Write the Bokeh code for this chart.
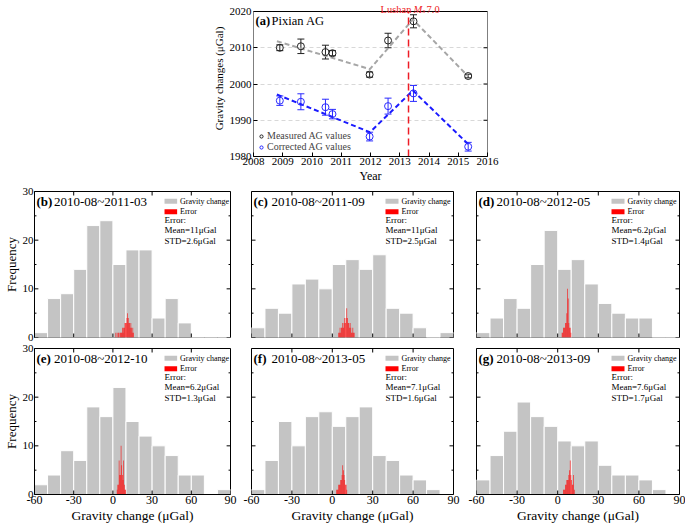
from bokeh.plotting import figure
from bokeh.layouts import column, row
from bokeh.models import (Range1d, FixedTicker, Label, Whisker,
                          TeeHead, ColumnDataSource, Legend, LegendItem)
from bokeh.embed import file_html
from bokeh.resources import INLINE

FONT = "Liberation Serif"

# ---------------- panel (a) data ----------------
AG_YEARS = [2008.90, 2009.62, 2010.46, 2010.70, 2011.97, 2012.60, 2013.47, 2015.34]
MEAS_AG = [2010.0, 2010.4, 2008.8, 2008.5, 2002.6, 2012.0, 2017.3, 2002.2]
MEAS_ERR = [0.8, 2.0, 1.9, 0.7, 0.7, 2.0, 1.8, 0.5]
CORR_AG = [1995.4, 1995.1, 1993.6, 1991.7, 1985.5, 1993.9, 1997.4, 1982.7]
CORR_ERR = [1.3, 2.2, 2.2, 1.3, 1.2, 2.2, 2.2, 1.2]
TREND_YEARS = [2008.80, 2011.98, 2013.45, 2015.34]
TREND_MEAS = [2011.8, 2004.1, 2017.8, 2002.1]
TREND_CORR = [1997.1, 1986.7, 1998.2, 1983.4]
QUAKE_YEAR = 2013.3
YEAR_TICKS = [2008, 2009, 2010, 2011, 2012, 2013, 2014, 2015, 2016]
GRAV_TICKS = [1980, 1990, 2000, 2010, 2020]

# ---------------- histogram data ----------------
BIN_EDGES = [-60, -50, -40, -30, -20, -10, 0, 10, 20, 30, 40, 50, 60, 70, 80, 90]
X_TICKS = [-60, -30, 0, 30, 60, 90]
X_TICK_LABELS = ["-60", "-30", "0", "30", "60", "90"]
Y_TICKS = [0, 10, 20, 30]
Y_MINOR = [5, 15, 25]
ERR_BIN_WIDTH = 0.5

PERIODS = ["2010-08~2011-03", "2010-08~2011-09", "2010-08~2012-05",
           "2010-08~2012-10", "2010-08~2013-05", "2010-08~2013-09"]
LETTERS = ["(b)", "(c)", "(d)", "(e)", "(f)", "(g)"]
MEANS = ["Mean=11μGal", "Mean=11μGal", "Mean=6.2μGal", "Mean=6.2μGal", "Mean=7.1μGal", "Mean=7.6μGal"]
STDS = ["STD=2.6μGal", "STD=2.5μGal", "STD=1.4μGal", "STD=1.3μGal", "STD=1.6μGal", "STD=1.7μGal"]

COUNTS_B = [1, 8, 9, 14, 23, 24, 15, 18, 18, 4, 8, 3, 0, 0, 0]
COUNTS_C = [2, 6, 5, 11, 12, 10, 15, 16, 14, 17, 6, 5, 2, 0, 1]
COUNTS_D = [1, 4, 8, 6, 15, 22, 14, 16, 11, 7, 5, 4, 4, 0, 0]
COUNTS_E = [2, 4, 9, 7, 18, 16, 22, 15, 12, 10, 8, 4, 4, 0, 1]
COUNTS_F = [1, 7, 15, 10, 16, 17, 14, 16, 18, 8, 7, 4, 3, 1, 0]
COUNTS_G = [3, 8, 13, 19, 16, 14, 11, 10, 11, 6, 4, 4, 3, 1, 0]

ERR_START = [2.0, 4.5, 3.0, 3.0, 3.0, 4.0]
ERR_B = [1, 0, 1, 0, 1, 1, 0, 1, 1, 1, 2, 1, 2, 2, 3, 3, 3, 4, 5, 4, 3, 3, 2, 3, 2, 1, 2, 1]
ERR_C = [1, 1, 2, 1, 2, 2, 3, 2, 3, 4, 3, 4, 6, 4, 3, 3, 2, 3, 2, 1, 1, 2, 1, 1]
ERR_D = [1, 1, 2, 2, 2, 3, 3, 5, 10, 8, 3, 2, 2, 1]
ERR_E = [1, 2, 2, 7, 4, 4, 10, 6, 4, 3, 7, 2, 1, 1]
ERR_F = [1, 1, 1, 2, 2, 2, 3, 3, 4, 6, 5, 4, 3, 2, 2, 1]
ERR_G = [1, 1, 1, 2, 2, 3, 3, 3, 4, 5, 7, 4, 3, 2, 2, 4, 1]

COUNTS = [COUNTS_B, COUNTS_C, COUNTS_D, COUNTS_E, COUNTS_F, COUNTS_G]
ERRS = [ERR_B, ERR_C, ERR_D, ERR_E, ERR_F, ERR_G]

GRAY = "#c4c4c4"
QUAKE_RED = "#ee1c25"


def style_axis(ax, fs="11px"):
    ax.major_tick_in = 4
    ax.major_tick_out = 0
    ax.minor_tick_in = 2
    ax.minor_tick_out = 0
    ax.axis_line_color = "black"
    ax.major_tick_line_color = "black"
    ax.minor_tick_line_color = "black"
    ax.major_label_text_font = FONT
    ax.axis_label_text_font = FONT
    ax.axis_label_text_font_style = "normal"
    ax.axis_label_text_color = "black"
    ax.major_label_text_color = "black"
    ax.major_label_standoff = 2
    ax.axis_label_standoff = 2
    ax.major_label_text_font_size = fs


def lab(p, x, y, text, size, color="black", style="normal", baseline="middle", align="left"):
    p.add_layout(Label(x=x, y=y, text=text, text_font=FONT, text_font_size=size,
                       text_color=color, text_font_style=style,
                       text_baseline=baseline, text_align=align))


# ---------------- panel (a) ----------------
# the frame reaches the top of the canvas so that the red label above 2020 stays visible;
# the axes box (2008-2016 x 1980-2020) is drawn explicitly
A_BL, A_BR, A_BT, A_BB = 253, 198, 0, 30
A_FW, A_FH = 234, 156
A_GAP = 11  # px between canvas top and the 2020 line
Y0, Y1 = GRAV_TICKS[0], GRAV_TICKS[-1]
X0, X1 = YEAR_TICKS[0], YEAR_TICKS[-1]
Y_TOP = Y1 + A_GAP * (Y1 - Y0) / (A_FH - A_GAP)

pa = figure(width=A_BL + A_FW + A_BR, height=A_BT + A_FH + A_BB,
            x_range=Range1d(X0, X1), y_range=Range1d(Y0, Y_TOP),
            min_border_left=A_BL, min_border_right=A_BR, min_border_top=A_BT,
            min_border_bottom=A_BB, output_backend="svg", toolbar_location=None)
pa.outline_line_color = None
pa.xgrid.visible = False
pa.ygrid.ticker = FixedTicker(ticks=GRAV_TICKS[1:-1])
pa.ygrid.grid_line_color = "#d8d8d8"
pa.ygrid.grid_line_dash = "4 3"
pa.xaxis.ticker = FixedTicker(ticks=YEAR_TICKS)
pa.yaxis.ticker = FixedTicker(ticks=GRAV_TICKS)
style_axis(pa.xaxis[0], "11px")
style_axis(pa.yaxis[0], "11px")
pa.yaxis.axis_line_color = None
pa.xaxis.major_label_standoff = 1
pa.xaxis.axis_label_standoff = 1
pa.xaxis.axis_label = "Year"
pa.yaxis.axis_label = "Gravity changes (μGal)"
pa.xaxis.axis_label_text_font_size = "12px"
pa.yaxis.axis_label_text_font_size = "11px"

AX = lambda px: X0 + px * (X1 - X0) / A_FW
AY = lambda py: Y_TOP - py * (Y_TOP - Y0) / A_FH   # py measured from canvas top

# axes box
pa.quad(left=[X0], right=[X1], bottom=[Y0], top=[Y1], fill_color=None,
        line_color="black", line_width=1)
# right-hand ticks (inward)
tk = 4 * (X1 - X0) / A_FW
pa.segment(x0=[X1] * len(GRAV_TICKS), y0=GRAV_TICKS, x1=[X1 - tk] * len(GRAV_TICKS),
           y1=GRAV_TICKS, line_color="black")

pa.line(TREND_YEARS, TREND_MEAS, line_color="#a6a6a6", line_width=2, line_dash="5 3")
pa.line(TREND_YEARS, TREND_CORR, line_color="#1a1aff", line_width=2, line_dash="5 3")
pa.segment(x0=[QUAKE_YEAR], y0=[Y0], x1=[QUAKE_YEAR], y1=[Y1], line_color=QUAKE_RED,
           line_width=1.5, line_dash="7 4")

src_m = ColumnDataSource(dict(x=AG_YEARS, lo=[v - e for v, e in zip(MEAS_AG, MEAS_ERR)],
                              hi=[v + e for v, e in zip(MEAS_AG, MEAS_ERR)]))
src_c = ColumnDataSource(dict(x=AG_YEARS, lo=[v - e for v, e in zip(CORR_AG, CORR_ERR)],
                              hi=[v + e for v, e in zip(CORR_AG, CORR_ERR)]))
for src, col in ((src_m, "#222222"), (src_c, "#2a2aff")):
    pa.add_layout(Whisker(source=src, base="x", lower="lo", upper="hi",
                          line_color=col, line_width=1,
                          upper_head=TeeHead(size=7, line_color=col, line_width=1),
                          lower_head=TeeHead(size=7, line_color=col, line_width=1)))
r_m = pa.scatter(AG_YEARS, MEAS_AG, marker="circle", size=7, fill_color=None,
                 line_color="#222222", line_width=1)
r_c = pa.scatter(AG_YEARS, CORR_AG, marker="circle", size=7, fill_color=None,
                 line_color="#2a2aff", line_width=1)
leg = Legend(items=[LegendItem(label="Measured AG values", renderers=[r_m]),
                    LegendItem(label="Corrected AG values", renderers=[r_c])],
             location="bottom_left", border_line_color=None, background_fill_alpha=0,
             margin=4, padding=0, spacing=0, glyph_width=8, glyph_height=10,
             label_height=10, label_standoff=2, label_text_font=FONT,
             label_text_font_size="10px")
pa.add_layout(leg)

lab(pa, AX(2), AY(20), "(a)", "12.5px", style="bold")
lab(pa, AX(18), AY(20), "Pixian AG", "12.5px")
lab(pa, AX(127), AY(8.5), "Lushan", "10.5px", color=QUAKE_RED, baseline="alphabetic")
lab(pa, AX(160), AY(8.5), "M", "10.5px", color=QUAKE_RED, style="italic", baseline="alphabetic")
lab(pa, AX(169), AY(10.5), "s", "7px", color=QUAKE_RED, style="italic", baseline="alphabetic")
lab(pa, AX(173), AY(8.5), "7.0", "10.5px", color=QUAKE_RED, baseline="alphabetic")


# ---------------- histograms ----------------
def hist_fig(i, bl, br, bt, bb, fw, fh, ylab, xlab):
    p = figure(width=bl + fw + br, height=bt + fh + bb,
               x_range=Range1d(-60, 90), y_range=Range1d(0, 30),
               min_border_left=bl, min_border_right=br, min_border_top=bt,
               min_border_bottom=bb, output_backend="svg", toolbar_location=None)
    p.outline_line_color = "black"
    p.grid.visible = False
    X = lambda px: -60 + px * 150.0 / fw
    Y = lambda py: 30 - py * 30.0 / fh

    counts = COUNTS[i]
    p.quad(left=BIN_EDGES[:-1], right=BIN_EDGES[1:], bottom=0, top=counts,
           fill_color=GRAY, line_color="white", line_width=1)
    errs = ERRS[i]
    el = [ERR_START[i] + k * ERR_BIN_WIDTH for k in range(len(errs))]
    er = [v + ERR_BIN_WIDTH for v in el]
    p.quad(left=el, right=er, bottom=0, top=errs, fill_color="#ff0000",
           line_color=None, fill_alpha=0.85)

    # inward tick marks on all four sides (from the tick lists)
    tx = 4 * 150.0 / fw
    ty = 4 * 30.0 / fh
    n = len(X_TICKS)
    p.segment(x0=X_TICKS, y0=[0] * n, x1=X_TICKS, y1=[ty] * n, line_color="black")
    p.segment(x0=X_TICKS, y0=[30] * n, x1=X_TICKS, y1=[30 - ty] * n, line_color="black")
    m = len(Y_TICKS)
    p.segment(x0=[-60] * m, y0=Y_TICKS, x1=[-60 + tx] * m, y1=Y_TICKS, line_color="black")
    p.segment(x0=[90] * m, y0=Y_TICKS, x1=[90 - tx] * m, y1=Y_TICKS, line_color="black")
    k = len(Y_MINOR)
    p.segment(x0=[-60] * k, y0=Y_MINOR, x1=[-60 + tx / 2] * k, y1=Y_MINOR, line_color="black")
    p.segment(x0=[90] * k, y0=Y_MINOR, x1=[90 - tx / 2] * k, y1=Y_MINOR, line_color="black")

    if xlab:
        p.xaxis.ticker = FixedTicker(ticks=X_TICKS)
        p.xaxis.major_label_overrides = {t: s for t, s in zip(X_TICKS, X_TICK_LABELS)}
        style_axis(p.xaxis[0], "12px")
        p.xaxis.major_label_standoff = 1
        p.xaxis.axis_label_standoff = 1
        p.xaxis.major_tick_in = 0
        p.xaxis.minor_tick_line_color = None
        p.xaxis.axis_label = "Gravity change (μGal)"
        p.xaxis.axis_label_text_font_size = "13.5px"
    else:
        p.xaxis.visible = False
    if ylab:
        p.yaxis.ticker = FixedTicker(ticks=Y_TICKS)
        style_axis(p.yaxis[0], "11px")
        p.yaxis.major_label_standoff = 1
        p.yaxis.axis_label_standoff = 1
        p.yaxis.major_tick_in = 0
        p.yaxis.minor_tick_line_color = None
        p.yaxis.axis_label = "Frequency"
        p.yaxis.axis_label_text_font_size = "13px"
    else:
        p.yaxis.visible = False

    # title
    lab(p, X(2), Y(10), LETTERS[i], "13px", style="bold")
    lab(p, X(20), Y(10), PERIODS[i], "13px")
    # legend
    p.quad(left=[X(fw - 68)], right=[X(fw - 55)], bottom=[Y(12.2)], top=[Y(7.2)],
           fill_color=GRAY, line_color=None)
    p.quad(left=[X(fw - 68)], right=[X(fw - 55)], bottom=[Y(22.8)], top=[Y(17.8)],
           fill_color="#ff0000", line_color=None)
    lab(p, X(fw - 52), Y(9.7), "Gravity change", "8px")
    lab(p, X(fw - 52), Y(20.3), "Error", "8px")
    lab(p, X(fw - 68), Y(28.5), "Error:", "9px")
    lab(p, X(fw - 68), Y(38.7), MEANS[i], "9px")
    lab(p, X(fw - 68), Y(49), STDS[i], "9px")
    return p


pb = hist_fig(0, 28, 10, 5, 6, 202, 146, True, False)
pc = hist_fig(1, 11, 12, 5, 6, 202, 146, False, False)
pd = hist_fig(2, 11, 6, 5, 6, 203, 146, False, False)
pe = hist_fig(3, 28, 10, 5, 31, 202, 146, True, True)
pf = hist_fig(4, 11, 12, 5, 31, 202, 146, False, True)
pg = hist_fig(5, 11, 6, 5, 31, 203, 146, False, True)

layout = column(pa, row(pb, pc, pd), row(pe, pf, pg))
open("out.html", "w").write(file_html(layout, INLINE))
